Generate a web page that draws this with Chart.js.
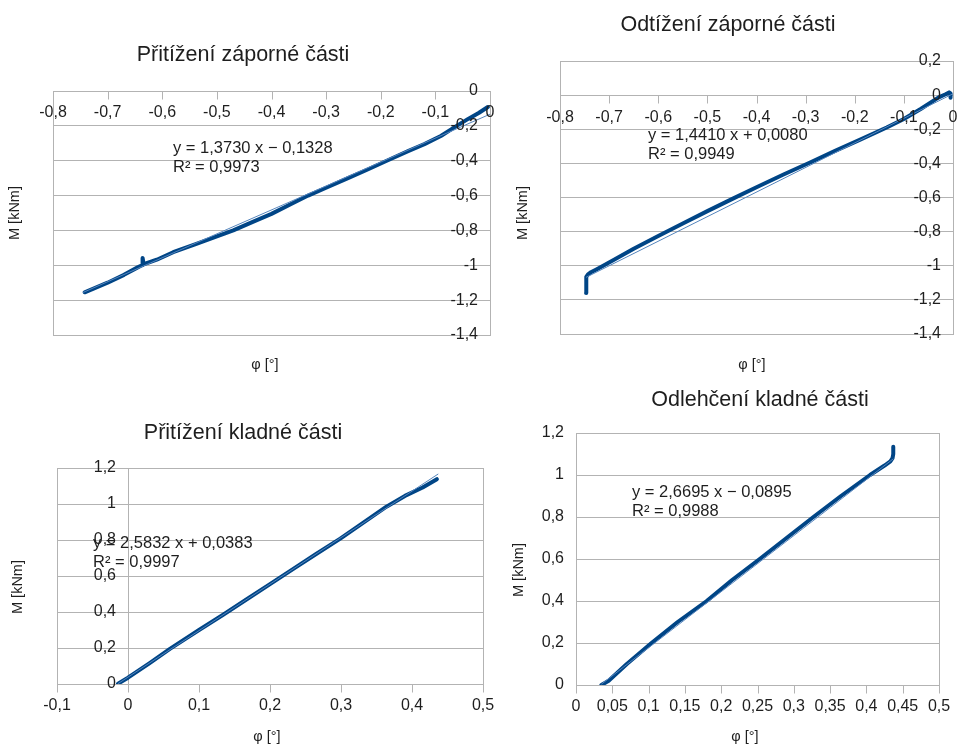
<!DOCTYPE html>
<html>
<head>
<meta charset="utf-8">
<script src="https://cdn.jsdelivr.net/npm/chart.js@4.4.1/dist/chart.umd.min.js"></script>
<style>
  html, body { margin: 0; padding: 0; background: #fff; }
  body { position: relative; width: 958px; height: 747px; overflow: hidden; }
  canvas { position: absolute; }
</style>
</head>
<body>
<canvas id="c1" width="500" height="385" style="left:0;top:0"></canvas>
<canvas id="c2" width="458" height="385" style="left:500px;top:0"></canvas>
<canvas id="c3" width="500" height="362" style="left:0;top:385px"></canvas>
<canvas id="c4" width="458" height="362" style="left:500px;top:385px"></canvas>
<script>
// ---- data ----
// Přitížení záporné části
var phiNegLoad = [-0.742, -0.700, -0.670, -0.645, -0.637, -0.636, -0.634, -0.610, -0.580, -0.540, -0.505, -0.470, -0.430, -0.400, -0.365, -0.333, -0.300, -0.260, -0.225, -0.189, -0.150, -0.120, -0.090, -0.061, -0.040, -0.020, -0.004];
var mNegLoad   = [-1.155, -1.100, -1.055, -1.012, -1.000, -0.958, -0.994, -0.968, -0.925, -0.880, -0.840, -0.800, -0.745, -0.705, -0.650, -0.600, -0.555, -0.500, -0.452, -0.400, -0.345, -0.305, -0.258, -0.200, -0.160, -0.125, -0.092];
var trendNegLoadX = [-0.745, 0];
var trendNegLoadY = [-1.156, -0.133];

// Odtížení záporné části
var phiNegUnload = [-0.747, -0.747, -0.746, -0.743, -0.737, -0.725, -0.690, -0.650, -0.603, -0.550, -0.500, -0.447, -0.400, -0.345, -0.291, -0.240, -0.190, -0.135, -0.100, -0.065, -0.030, -0.015, -0.008, -0.005, -0.005];
var mNegUnload   = [-1.160, -1.110, -1.065, -1.050, -1.038, -1.020, -0.965, -0.900, -0.830, -0.752, -0.680, -0.605, -0.540, -0.465, -0.395, -0.327, -0.262, -0.190, -0.140, -0.080, -0.015, 0.005, 0.016, 0.010, -0.015];
var trendNegUnloadX = [-0.747, 0];
var trendNegUnloadY = [-1.068, 0.008];

// Přitížení kladné části
var phiPosLoad = [-0.014, 0.000, 0.030, 0.059, 0.100, 0.134, 0.170, 0.200, 0.235, 0.265, 0.299, 0.330, 0.364, 0.390, 0.415, 0.435];
var mPosLoad   = [0.002, 0.035, 0.115, 0.195, 0.300, 0.385, 0.478, 0.555, 0.645, 0.722, 0.808, 0.892, 0.985, 1.045, 1.092, 1.138];
var trendPosLoadX = [-0.014, 0.437];
var trendPosLoadY = [0.002, 1.167];

// Odlehčení kladné části
var phiPosUnload = [0.035, 0.045, 0.070, 0.104, 0.140, 0.180, 0.215, 0.253, 0.290, 0.327, 0.365, 0.405, 0.425, 0.433, 0.436, 0.437, 0.437];
var mPosUnload   = [0.000, 0.020, 0.100, 0.200, 0.300, 0.400, 0.500, 0.600, 0.700, 0.800, 0.900, 1.000, 1.045, 1.065, 1.080, 1.100, 1.135];
var trendPosUnloadX = [0.035, 0.437];
var trendPosUnloadY = [0.004, 1.077];

// tick values
var xTicksNeg = [-0.8, -0.7, -0.6, -0.5, -0.4, -0.3, -0.2, -0.1, 0];
var yTicksNegLoad = [0, -0.2, -0.4, -0.6, -0.8, -1, -1.2, -1.4];
var yTicksNegUnload = [0.2, 0, -0.2, -0.4, -0.6, -0.8, -1, -1.2, -1.4];
var xTicksPosLoad = [-0.1, 0, 0.1, 0.2, 0.3, 0.4, 0.5];
var xTicksPosUnload = [0, 0.05, 0.1, 0.15, 0.2, 0.25, 0.3, 0.35, 0.4, 0.45, 0.5];
var yTicksPos = [0, 0.2, 0.4, 0.6, 0.8, 1, 1.2];

var FONT = "'Liberation Sans', Arial, sans-serif";
var TEXT = '#1e1e1e';
var GRID = '#b3b3b3';

function fmt(v) { return String(v).replace('.', ','); }
function pts(xs, ys) { return xs.map(function(x, i) { return { x: x, y: ys[i] }; }); }

// axes lines, tick marks, labels and titles
var decoPlugin = {
  id: 'deco',
  beforeDatasetsDraw: function(chart, args, o) {
    var ctx = chart.ctx, a = chart.chartArea, xs = chart.scales.x, ys = chart.scales.y;
    var ax = Math.round(xs.getPixelForValue(0)) + 0.5;
    var ay = Math.round(ys.getPixelForValue(0)) + 0.5;
    ctx.save();
    ctx.strokeStyle = GRID;
    ctx.lineWidth = 1;
    ctx.strokeRect(Math.round(a.left) + 0.5, Math.round(a.top) + 0.5, Math.round(a.right - a.left), Math.round(a.bottom - a.top));
    ctx.beginPath();
    ctx.moveTo(ax, a.top); ctx.lineTo(ax, a.bottom);
    ctx.moveTo(a.left, ay); ctx.lineTo(a.right, ay);
    xs.ticks.forEach(function(t) {
      var px = Math.round(xs.getPixelForValue(t.value)) + 0.5;
      ctx.moveTo(px, ay); ctx.lineTo(px, ay + 8);
    });
    ctx.stroke();
    ctx.restore();
  },
  afterDraw: function(chart, args, o) {
    var ctx = chart.ctx, xs = chart.scales.x, ys = chart.scales.y;
    var ax = xs.getPixelForValue(0), ay = ys.getPixelForValue(0);
    ctx.save();
    ctx.fillStyle = TEXT;
    ctx.textBaseline = 'middle';

    ctx.font = '16px ' + FONT;
    ctx.textAlign = 'center';
    xs.ticks.forEach(function(t) {
      ctx.fillText(fmt(t.value), xs.getPixelForValue(t.value), ay + 22);
    });
    ctx.textAlign = 'right';
    ys.ticks.forEach(function(t) {
      ctx.fillText(fmt(t.value), ax - 12, ys.getPixelForValue(t.value));
    });

    ctx.font = '21.5px ' + FONT;
    ctx.textAlign = 'center';
    ctx.fillText(o.title, o.titleAt[0], o.titleAt[1]);

    ctx.font = '14.5px ' + FONT;
    ctx.fillText('φ [°]', o.xTitleAt[0], o.xTitleAt[1]);
    ctx.save();
    ctx.translate(o.yTitleAt[0], o.yTitleAt[1]);
    ctx.rotate(-Math.PI / 2);
    ctx.fillText('M [kNm]', 0, 0);
    ctx.restore();

    ctx.font = '16.5px ' + FONT;
    ctx.textAlign = 'left';
    ctx.fillText(o.eq, o.eqAt[0], o.eqAt[1]);
    ctx.fillText(o.r2, o.eqAt[0], o.eqAt[1] + 19);
    ctx.restore();
  }
};

function makeChart(id, cfg) {
  return new Chart(document.getElementById(id), {
    type: 'scatter',
    data: {
      datasets: [
        {
          data: pts(cfg.trendX, cfg.trendY),
          showLine: true, borderColor: '#5585bd', borderWidth: 1,
          pointRadius: 0, fill: false
        },
        {
          data: pts(cfg.x, cfg.y),
          showLine: true, borderColor: '#004586', borderWidth: 4,
          pointRadius: 0, fill: false, borderJoinStyle: 'round', borderCapStyle: 'round'
        }
      ]
    },
    options: {
      responsive: false,
      animation: false,
      devicePixelRatio: 1,
      layout: { padding: cfg.pad },
      plugins: {
        legend: { display: false },
        tooltip: { enabled: false },
        title: { display: false },
        deco: cfg.deco
      },
      scales: {
        x: {
          type: 'linear', min: cfg.xTicks[0], max: cfg.xTicks[cfg.xTicks.length - 1],
          afterBuildTicks: function(s) { s.ticks = cfg.xTicks.map(function(v) { return { value: v }; }); },
          ticks: { display: false },
          grid: { display: false, drawTicks: false },
          border: { display: false }
        },
        y: {
          type: 'linear', min: Math.min.apply(null, cfg.yTicks), max: Math.max.apply(null, cfg.yTicks),
          afterBuildTicks: function(s) { s.ticks = cfg.yTicks.map(function(v) { return { value: v }; }); },
          ticks: { display: false },
          grid: { color: GRID, lineWidth: 1, drawTicks: false },
          border: { display: false }
        }
      }
    },
    plugins: [decoPlugin]
  });
}

makeChart('c1', {
  x: phiNegLoad, y: mNegLoad, trendX: trendNegLoadX, trendY: trendNegLoadY,
  xTicks: xTicksNeg, yTicks: yTicksNegLoad,
  pad: { left: 53, top: 91, right: 10, bottom: 50 },
  deco: { title: 'Přitížení záporné části', titleAt: [243, 55], xTitleAt: [265, 365], yTitleAt: [15, 213],
          eq: 'y = 1,3730 x − 0,1328', r2: 'R² = 0,9973', eqAt: [173, 148] }
});
makeChart('c2', {
  x: phiNegUnload, y: mNegUnload, trendX: trendNegUnloadX, trendY: trendNegUnloadY,
  xTicks: xTicksNeg, yTicks: yTicksNegUnload,
  pad: { left: 60, top: 61, right: 5, bottom: 51 },
  deco: { title: 'Odtížení záporné části', titleAt: [228, 25], xTitleAt: [252, 365], yTitleAt: [23, 213],
          eq: 'y = 1,4410 x + 0,0080', r2: 'R² = 0,9949', eqAt: [148, 135] }
});
makeChart('c3', {
  x: phiPosLoad, y: mPosLoad, trendX: trendPosLoadX, trendY: trendPosLoadY,
  xTicks: xTicksPosLoad, yTicks: yTicksPos,
  pad: { left: 57, top: 83, right: 17, bottom: 63 },
  deco: { title: 'Přitížení kladné části', titleAt: [243, 48], xTitleAt: [267, 352], yTitleAt: [18, 202],
          eq: 'y = 2,5832 x + 0,0383', r2: 'R² = 0,9997', eqAt: [93, 158] }
});
makeChart('c4', {
  x: phiPosUnload, y: mPosUnload, trendX: trendPosUnloadX, trendY: trendPosUnloadY,
  xTicks: xTicksPosUnload, yTicks: yTicksPos,
  pad: { left: 76, top: 48, right: 19, bottom: 62 },
  deco: { title: 'Odlehčení kladné části', titleAt: [260, 15], xTitleAt: [245, 352], yTitleAt: [19, 185],
          eq: 'y = 2,6695 x − 0,0895', r2: 'R² = 0,9988', eqAt: [132, 107] }
});
</script>
</body>
</html>
